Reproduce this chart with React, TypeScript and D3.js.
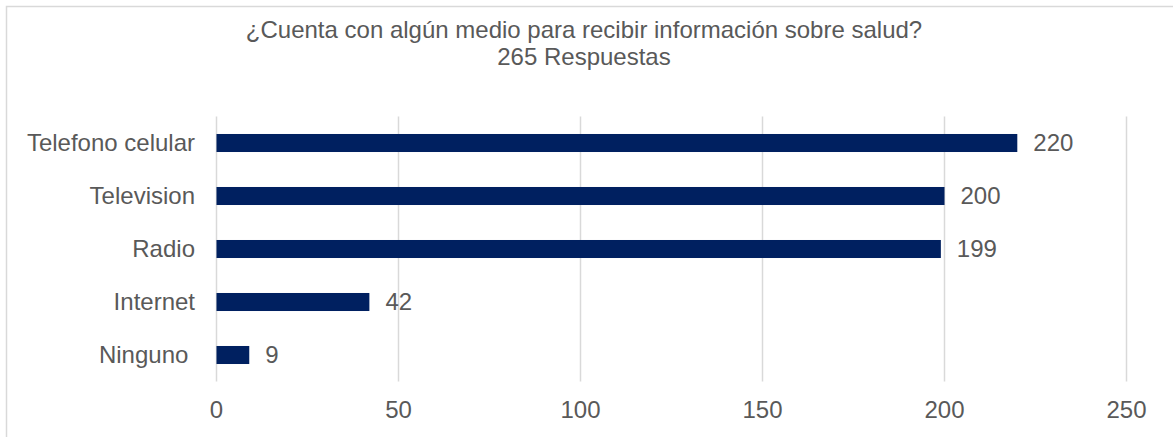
import React from 'react'
import * as d3 from 'd3'

// the source label for "Ninguno" carries a trailing space
const categories = ['Telefono celular', 'Television', 'Radio', 'Internet', 'Ninguno ']
const values = [220, 200, 199, 42, 9]
const xTicks = [0, 50, 100, 150, 200, 250]
const titleLines = ['¿Cuenta con algún medio para recibir información sobre salud?', '265 Respuestas']

const W = 1173
const H = 437
const FONT = '"Liberation Sans", Arial, sans-serif'
const TEXT = '#595959'
const GRID = '#d9d9d9'
const BAR = '#002060'

export default function App() {
  const x = d3.scaleLinear().domain([0, 250]).range([216.5, 1126.5])
  const y = d3.scaleBand<string>()
    .domain(categories)
    .range([116.5, 381.5])
    .paddingInner(0.66)
    .paddingOuter(0.33)
  const fs = 24

  return (
    <svg width={W} height={H} style={{ position: 'absolute', left: 0, top: 0 }} fontFamily={FONT}>
      <rect x={0} y={0} width={W} height={H} fill="#fff" />
      <rect x={6.5} y={6.5} width={W + 20} height={H + 20} fill="none" stroke={GRID} strokeWidth={1.5} />
      {titleLines.map((t, i) => (
        <text key={i} x={584} y={38 + i * 27} textAnchor="middle" fontSize={fs} fill={TEXT}>{t}</text>
      ))}
      {xTicks.map(t => (
        <g key={t}>
          <line x1={x(t)} x2={x(t)} y1={116.5} y2={381.5} stroke={GRID} strokeWidth={1.5} />
          <text x={x(t)} y={418} textAnchor="middle" fontSize={fs} fill={TEXT}>{t}</text>
        </g>
      ))}
      {categories.map((c, i) => {
        const y0 = y(c) as number
        const bw = y.bandwidth()
        return (
          <g key={c}>
            <rect x={x(0)} y={y0} width={x(values[i]) - x(0)} height={bw} fill={BAR} />
            <text x={195} y={y0 + bw / 2 + 8} textAnchor="end" fontSize={fs} fill={TEXT}
              style={{ whiteSpace: 'pre' }}>{c}</text>
            <text x={x(values[i]) + 16} y={y0 + bw / 2 + 8} fontSize={fs} fill={TEXT}>{values[i]}</text>
          </g>
        )
      })}
    </svg>
  )
}
